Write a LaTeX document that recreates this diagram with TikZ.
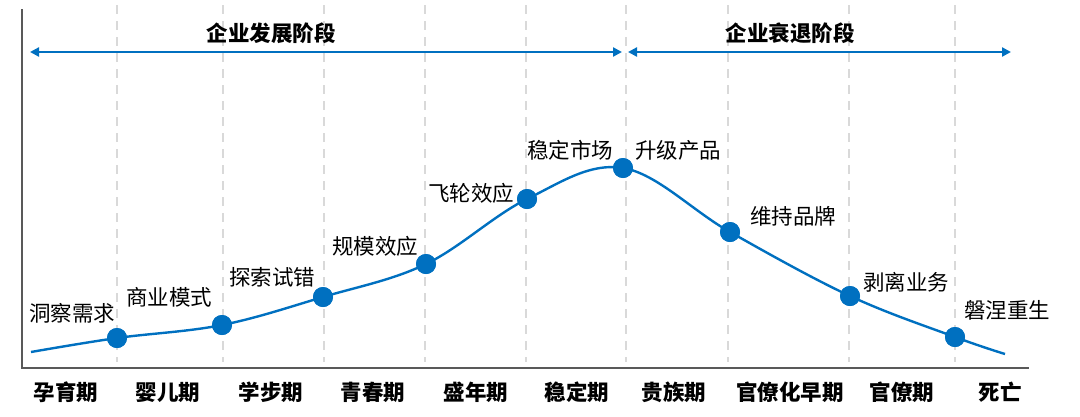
\documentclass[tikz,border=0pt]{standalone}
\usepackage{fontspec}
\setmainfont{Noto Sans CJK SC}
\definecolor{stageblue}{RGB}{0, 112, 192}
\definecolor{axisgray}{RGB}{89, 89, 89}
\definecolor{gridgray}{RGB}{217, 217, 217}
\usetikzlibrary{arrows.meta, positioning, calc}
\tikzset{
  stagedot/.style={circle, fill=stageblue, inner sep=0pt, minimum size=20pt},
  eventlabel/.style={font=\fontsize{21.5}{24}\selectfont, text=black, inner sep=0pt},
  periodlabel/.style={font=\fontsize{21.5}{24}\selectfont\bfseries, text=black, inner sep=0pt},
  phasetitle/.style={font=\fontsize{21.5}{24}\selectfont\bfseries, text=black, inner sep=0pt},
  phasearrow/.style={draw=stageblue, line width=2.6pt, {Triangle[length=9pt, width=9pt]}-{Triangle[length=9pt, width=9pt]}},
  gridline/.style={draw=gridgray, line width=2pt, dash pattern=on 9pt off 7pt},
}

\begin{document}
\begin{tikzpicture}[x=1pt, y=-1pt]
\useasboundingbox (0,0) rectangle (1080,416);

% Period dividers
\foreach \gx in {117,223,324,425,526,626,728,849,955}
  \draw[gridline] (\gx,5) -- (\gx,362);

% Axes
\coordinate (origin) at (22,368);
\coordinate (ytop) at (22,9);
\coordinate (xend) at (1029,368);
\draw[axisgray, line width=2.2pt] (ytop) -- (origin) -- (xend);

% Phase arrows
\coordinate (growL) at (30,52);
\coordinate (growR) at (622,52);
\coordinate (declL) at (628,52);
\coordinate (declR) at (1011,52);
\draw[phasearrow] (growL) -- (growR);
\draw[phasearrow] (declL) -- (declR);
\node[phasetitle] (growth) at (271,33) {企业发展阶段};
\node[phasetitle] (decline) at (790,33) {企业衰退阶段};

% Life curve
\coordinate (cstart) at (31,352);
\coordinate (cend) at (1005,354);
\node[stagedot] (d1) at (117,338) {};
\node[stagedot] (d2) at (222,325) {};
\node[stagedot] (d3) at (323,297) {};
\node[stagedot] (d4) at (426,264) {};
\node[stagedot] (d5) at (527,199) {};
\node[stagedot] (d6) at (623,168) {};
\node[stagedot] (d7) at (730,232) {};
\node[stagedot] (d8) at (850,296) {};
\node[stagedot] (d9) at (955,337) {};
\draw[stageblue, line width=2.4pt] plot[smooth, tension=0.6] coordinates
  {(cstart) (d1) (d2) (d3) (d4) (d5) (d6) (d7) (d8) (d9) (cend)};
\foreach \d in {d1,d2,d3,d4,d5,d6,d7,d8,d9}
  \node[stagedot] at (\d) {};

% Event labels
\node[eventlabel] (e1) at (72,313) {洞察需求};
\node[eventlabel] (e2) at (169,297) {商业模式};
\node[eventlabel] (e3) at (272,277) {探索试错};
\node[eventlabel] (e4) at (375,246) {规模效应};
\node[eventlabel] (e5) at (471,193) {飞轮效应};
\node[eventlabel] (e6) at (570,150) {稳定市场};
\node[eventlabel] (e7) at (678,150) {升级产品};
\node[eventlabel] (e8) at (793,216) {维持品牌};
\node[eventlabel] (e9) at (906,282) {剥离业务};
\node[eventlabel] (e10) at (1007,310) {磐涅重生};

% Period labels
\node[periodlabel] (p1) at (66,392) {孕育期};
\node[periodlabel] (p2) at (168,392) {婴儿期};
\node[periodlabel] (p3) at (271,392) {学步期};
\node[periodlabel] (p4) at (373,392) {青春期};
\node[periodlabel] (p5) at (476,392) {盛年期};
\node[periodlabel] (p6) at (577,392) {稳定期};
\node[periodlabel] (p7) at (674,392) {贵族期};
\node[periodlabel] (p8) at (790,392) {官僚化早期};
\node[periodlabel] (p9) at (902,392) {官僚期};
\node[periodlabel] (p10) at (1000,392) {死亡};
\end{tikzpicture}
\end{document}
